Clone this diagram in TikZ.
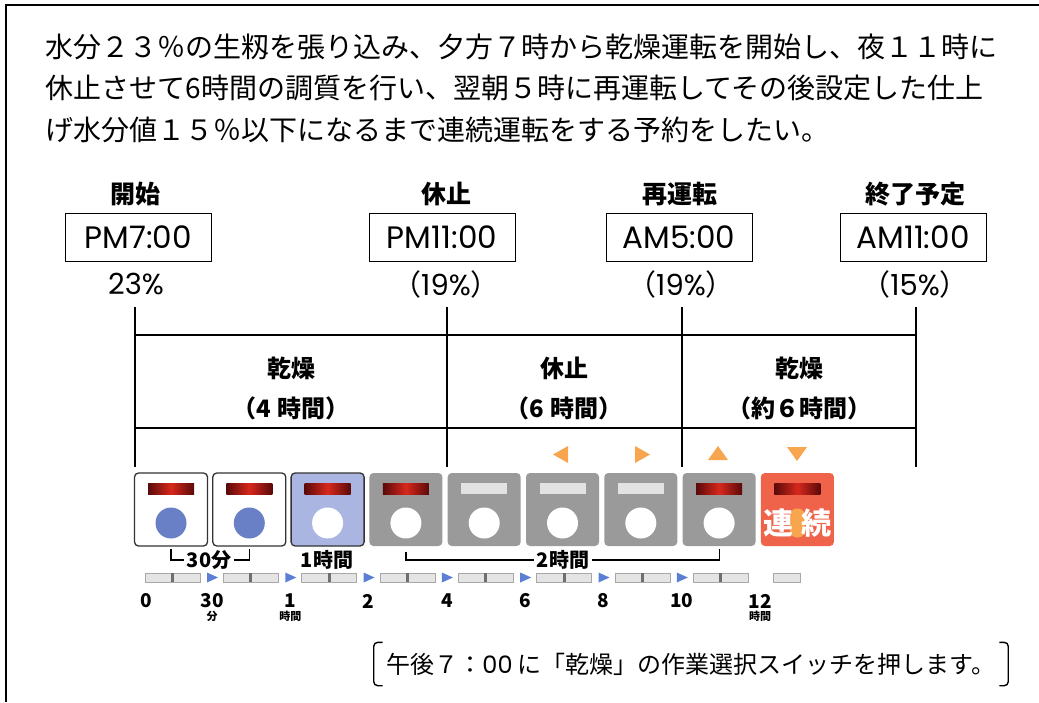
\documentclass[tikz,border=0pt]{standalone}
\usepackage{fontspec}
\setmainfont{Noto Sans CJK JP}
\newfontfamily\latinfont{Poppins}
\usepackage{xcolor}
\usetikzlibrary{positioning,calc}
\definecolor{ledred}{HTML}{D8281C}
\definecolor{leddark}{HTML}{5A0A0A}
\definecolor{ledoffgray}{HTML}{E2E2E2}
\definecolor{panelgray}{HTML}{9A9A9A}
\definecolor{panelblue}{HTML}{AAB5E2}
\definecolor{dotblue}{HTML}{6A80C6}
\definecolor{panelorange}{HTML}{EF634A}
\definecolor{markorange}{HTML}{F7A54E}
\definecolor{segfill}{HTML}{E4E4E4}
\definecolor{segedge}{HTML}{A8A8A8}
\definecolor{segtick}{HTML}{6E6E6E}
\definecolor{arrowblue}{HTML}{5B7FD4}

\newcommand{\fs}[1]{\fontsize{#1}{#1}\selectfont}
\newcommand{\jp}[1]{{\normalfont #1}}

\tikzset{
  timebox/.style={draw, line width=1pt, minimum width=146pt, minimum height=48pt, inner sep=0pt, font=\fs{31}\latinfont},
  headtext/.style={font=\fs{25}\bfseries},
  pcttext/.style={font=\fs{29}\latinfont},
  bandtext/.style={font=\fontsize{24}{40}\selectfont\bfseries, align=center},
  panel/.style={rounded corners=4pt, minimum size=73pt, inner sep=0pt},
  pwhite/.style={panel, draw=black!80, line width=1.3pt, fill=white},
  pblue/.style={panel, draw=black!80, line width=1.3pt, fill=panelblue},
  pgray/.style={panel, fill=panelgray},
  porange/.style={panel, fill=panelorange},
  ledon/.style={minimum width=46pt, minimum height=11pt, inner sep=0pt, left color=leddark, right color=leddark, middle color=ledred},
  ledoff/.style={minimum width=46pt, minimum height=11pt, inner sep=0pt, fill=ledoffgray},
  dotfull/.style={circle, minimum size=31pt, inner sep=0pt, fill=dotblue},
  dotempty/.style={circle, minimum size=31pt, inner sep=0pt, fill=white},
  dotnone/.style={inner sep=0pt},
  spanlabel/.style={font=\fs{20}\bfseries, inner sep=2pt},
  ticknum/.style={font=\fs{19}\bfseries},
  tickunit/.style={font=\fs{11}\bfseries},
  seg/.style={draw=segedge, fill=segfill, line width=0.6pt, minimum width=55pt, minimum height=9pt, inner sep=0pt},
}

\begin{document}
\begin{tikzpicture}[x=1pt, y=-1pt, line width=1.4pt]
\useasboundingbox (0,0) rectangle (1039,702);
\draw[line width=1.6pt] (6,702) -- (6,5) -- (1039,5);

\node[anchor=west, font=\fs{28}, inner sep=0pt] (line1) at (45,47) {水分２３％の生籾を張り込み、夕方７時から乾燥運転を開始し、夜１１時に};
\node[anchor=west, font=\fs{28}, inner sep=0pt] (line2) at (45,88) {休止させて6時間の調質を行い、翌朝５時に再運転してその後設定した仕上};
\node[anchor=west, font=\fs{28}, inner sep=0pt] (line3) at (45,130) {げ水分値１５％以下になるまで連続運転をする予約をしたい。};

\node[headtext] (h1) at (135,194) {開始};
\node[headtext] (h2) at (446,194) {休止};
\node[headtext] (h3) at (680,194) {再運転};
\node[headtext] (h4) at (915,194) {終了予定};
\node[timebox] (t1) at (138,237) {PM7:00};
\node[timebox] (t2) at (442,237) {PM11:00};
\node[timebox] (t3) at (679,237) {AM5:00};
\node[timebox] (t4) at (913,237) {AM11:00};
\node[pcttext] (p1) at (136,284) {23\%};
\node[pcttext] (p2) at (446,284) {\jp{（}19\%\jp{）}};
\node[pcttext] (p3) at (681,284) {\jp{（}19\%\jp{）}};
\node[pcttext] (p4) at (915,284) {\jp{（}15\%\jp{）}};

\foreach \x in {135,447,682,916}
  \draw (\x,307) -- (\x,467);
\draw (135,335) -- (916,335);
\draw (135,428) -- (916,428);
\node[bandtext] (band1) at (291,388) {乾燥\\（4 時間）};
\node[bandtext] (band2) at (564,388) {休止\\（6 時間）};
\node[bandtext] (band3) at (799,388) {乾燥\\（約６時間）};

\fill[markorange] (553,454.5) -- (568,446) -- (568,463) -- cycle;
\fill[markorange] (650,454.5) -- (635,446) -- (635,463) -- cycle;
\fill[markorange] (718,446) -- (728,460) -- (708,460) -- cycle;
\fill[markorange] (797,461) -- (807,447) -- (787,447) -- cycle;

\foreach \i/\kind/\led/\dot in {1/pwhite/ledon/dotfull, 2/pwhite/ledon/dotfull, 3/pblue/ledon/dotempty,
  4/pgray/ledon/dotempty, 5/pgray/ledoff/dotempty, 6/pgray/ledoff/dotempty, 7/pgray/ledoff/dotempty,
  8/pgray/ledon/dotempty, 9/porange/ledon/dotnone} {
  \node[\kind] (b\i) at ({171+(\i-1)*78.3},509.5) {};
  \node[\led] (led\i) at ([yshift=-16.5pt]b\i.north) {};
  \node[\dot] (dot\i) at ([yshift=-13.5pt]b\i.center) {};
}
\node[fill=markorange, rounded corners=7pt, minimum width=15pt, minimum height=29pt, inner sep=0pt] (blob) at (dot9) {};
\node[text=white, font=\fs{30}\bfseries, inner sep=0pt] (renzoku) at (dot9) {連\hspace{8pt}続};

\node[spanlabel] (m30) at (209,560) {30分};
\draw[line width=1.2pt] ([yshift=-2pt]b1.south) |- (m30.west);
\draw[line width=1.2pt] (m30.east) -| ([yshift=-2pt]b2.south);
\node[spanlabel] (m60) at (327,560) {1時間};
\node[spanlabel] (m120) at (563,560) {2時間};
\draw[line width=1.2pt] ([yshift=-5pt]b4.south) |- (m120.west);
\draw[line width=1.2pt] (m120.east) -| ([yshift=-2pt]b8.south);

\foreach \k in {0,...,7} {
  \node[seg] (s\k) at ({172.5+\k*78.3},577.5) {};
  \fill[segtick] ([xshift=-1.5pt]s\k.north) rectangle ([xshift=1.5pt]s\k.south);
}
\node[seg, minimum width=27pt] (s8) at (786.5,577.5) {};
\foreach \k in {0,...,6}
  \fill[arrowblue] ({207+\k*78.3},572.5) -- ({218+\k*78.3},577.5) -- ({207+\k*78.3},582.5) -- cycle;

\node[ticknum] (n0) at (146,601) {0};
\foreach \k/\v in {0/30,1/1,2/2,3/4,4/6,5/8,6/10,7/12}
  \node[ticknum] (n\v) at ({212+\k*78.3},601) {\v};
\node[tickunit] (u30) at (212,616) {分};
\node[tickunit] (u1) at (290.3,616) {時間};
\node[tickunit] (u12) at (760,616) {時間};

\node[font=\fs{24}, minimum height=42pt, inner xsep=12pt] (note) at (691,664) {午後７：{\latinfont 00} に「乾燥」の作業選択スイッチを押します。};
\draw[rounded corners=4pt] ([xshift=9pt]note.north west) -| (note.south west) -- ([xshift=9pt]note.south west);
\draw[rounded corners=4pt] ([xshift=-9pt]note.north east) -| (note.south east) -- ([xshift=-9pt]note.south east);
\end{tikzpicture}
\end{document}
